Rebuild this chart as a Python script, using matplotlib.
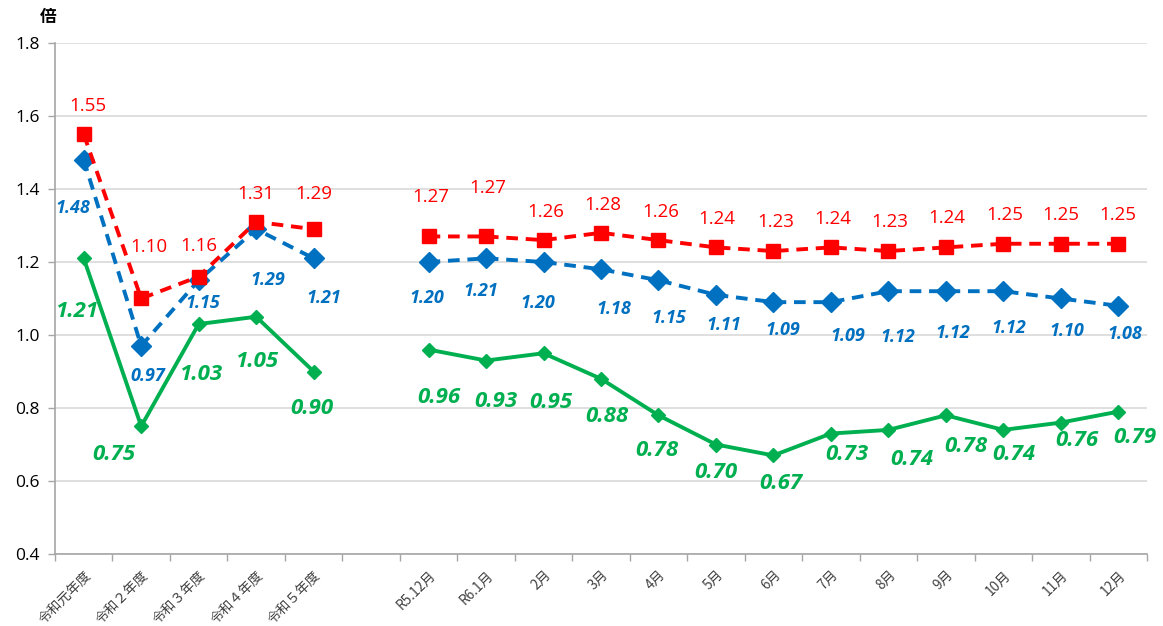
import numpy as np
import matplotlib
matplotlib.use("Agg")
import matplotlib.pyplot as plt
from matplotlib.ticker import FixedLocator, NullFormatter

nan = np.nan
categories = ['令和元年度', '令和２年度', '令和３年度', '令和４年度', '令和５年度', '',
              'R5.12月', 'R6.1月', '2月', '3月', '4月', '5月', '6月', '7月', '8月',
              '9月', '10月', '11月', '12月']
red_vals = [1.55, 1.10, 1.16, 1.31, 1.29, nan, 1.27, 1.27, 1.26, 1.28, 1.26, 1.24,
            1.23, 1.24, 1.23, 1.24, 1.25, 1.25, 1.25]
blue_vals = [1.48, 0.97, 1.15, 1.29, 1.21, nan, 1.20, 1.21, 1.20, 1.18, 1.15, 1.11,
             1.09, 1.09, 1.12, 1.12, 1.12, 1.10, 1.08]
green_vals = [1.21, 0.75, 1.03, 1.05, 0.90, nan, 0.96, 0.93, 0.95, 0.88, 0.78, 0.70,
              0.67, 0.73, 0.74, 0.78, 0.74, 0.76, 0.79]
yticks = [0.4, 0.6, 0.8, 1.0, 1.2, 1.4, 1.6, 1.8]

# label offsets in pixels (dx right, dy down)
red_off = [(4, -28), (8, -51), (0, -31), (0, -28), (0, -35), None, (2, -39), (2, -48),
           (2, -28), (2, -28), (2, -28), (1, -28), (2, -29), (2, -28), (1, -29), (1, -29),
           (1, -29), (0, -29), (0, -29)]
blue_off = [(-11, 48), (7, 30), (4, 23), (12, 51), (10, 40), None, (-2, 36), (-5, 33),
            (-6, 41), (13, 40), (10, 38), (8, 30), (9, 28), (17, 34), (9, 46), (7, 42),
            (5, 37), (6, 33), (7, 28)]
green_off = [(-7, 53), (-27, 28), (2, 50), (0, 45), (-2, 37), None, (10, 48), (10, 41),
             (7, 49), (6, 38), (-2, 35), (0, 28), (7, 28), (16, 21), (23, 30), (20, 31),
             (11, 25), (16, 18), (17, 26)]

RED = '#FF0000'
BLUE = '#0070C0'
GREEN = '#00B050'
NUMFONT = ['Open Sans', 'DejaVu Sans']
JPFONT = ['Noto Sans CJK JP', 'DejaVu Sans']

fig = plt.figure(figsize=(11.63, 6.26), dpi=100)
ax = fig.add_axes([55 / 1163, 1 - 554 / 626, (1147 - 55) / 1163, (554 - 43) / 626])

x = np.arange(len(categories))

ax.plot(x, green_vals, color=GREEN, lw=2.8, marker='D', ms=7, mec=GREEN, mfc=GREEN, zorder=3)
ax.plot(x, blue_vals, color=BLUE, lw=2.8, ls=(0, (3, 2)), marker='D', ms=10.5, mec=BLUE,
        mfc=BLUE, zorder=4)
ax.plot(x, red_vals, color=RED, lw=2.8, ls=(0, (3, 2)), marker='s', ms=10, mec=RED,
        mfc=RED, zorder=5)

def label(vals, offs, color, size, weight, style):
    for i, (v, o) in enumerate(zip(vals, offs)):
        if o is None or np.isnan(v):
            continue
        ax.annotate(f'{v:.2f}', (x[i], v), xytext=(o[0], -o[1]), textcoords='offset pixels',
                    ha='center', va='center', color=color, fontsize=size,
                    fontweight=weight, fontstyle=style, family=NUMFONT, zorder=6)

label(red_vals, red_off, RED, 13.5, 'normal', 'normal')
label(blue_vals, blue_off, BLUE, 13, 'bold', 'italic')
label(green_vals, green_off, GREEN, 16, 'bold', 'italic')

ax.set_xlim(-0.5, len(categories) - 0.5)
ax.set_ylim(0.4, 1.8)
ax.set_yticks(yticks)
ax.set_yticklabels([f'{t:.1f}' for t in yticks], fontsize=12.5, family=NUMFONT, color='#000000')
ax.grid(axis='y', color='#D9D9D9', lw=1.2)
ax.set_axisbelow(True)

ax.set_xticks(x)
ax.set_xticklabels(categories, rotation=45, ha='right', rotation_mode='anchor',
                   fontsize=9.8, family=JPFONT, color='#404040')
ax.xaxis.set_minor_locator(FixedLocator(np.arange(-0.5, len(categories), 1.0)))
ax.xaxis.set_minor_formatter(NullFormatter())
ax.tick_params(axis='x', which='major', length=0, pad=10)
ax.tick_params(axis='x', which='minor', length=5, color='#A6A6A6', width=1)
ax.tick_params(axis='y', length=5, color='#A6A6A6', width=1, pad=6)

for s in ['top', 'right']:
    ax.spines[s].set_visible(False)
ax.spines['left'].set_color('#A6A6A6')
ax.spines['bottom'].set_color('#A6A6A6')
ax.spines['left'].set_linewidth(1.2)
ax.spines['bottom'].set_linewidth(1.2)

fig.text(48 / 1163, 1 - 17 / 626, '倍', ha='center', va='center', fontsize=12,
         fontweight='bold', family=JPFONT)

fig.savefig('out.png', dpi=100)
